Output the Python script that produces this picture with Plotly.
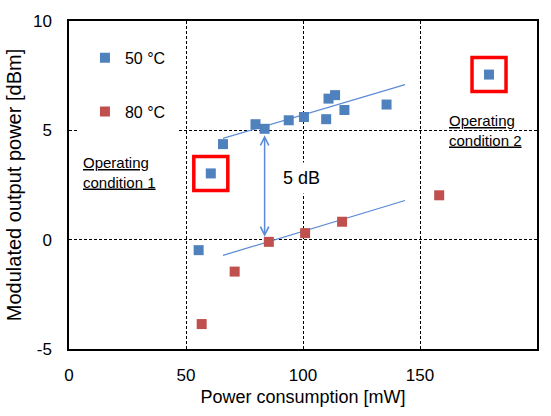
import plotly.graph_objects as go

# Measured modulated output power vs. power consumption
power_50 = [55.4, 60.6, 65.8, 79.7, 83.6, 93.9, 100.4, 109.9, 110.9, 113.7, 117.7, 135.7, 179.5]
mod_50 = [-0.48, 3.03, 4.37, 5.28, 5.07, 5.46, 5.61, 5.51, 6.45, 6.61, 5.93, 6.18, 7.55]

power_80 = [56.7, 70.8, 85.4, 100.9, 116.7, 158.2]
mod_80 = [-3.86, -1.46, -0.10, 0.30, 0.82, 2.03]

# Linear trend lines
trend_x = [65.8, 143.6]
trend_50 = [4.63, 7.09]
trend_80 = [-0.72, 1.79]

# Points highlighted as operating conditions 1 and 2 (indices into the 50 °C series)
highlight_idx = [1, 12]
# Points used for the 5 dB gap arrow
gap_idx_50 = 4
gap_idx_80 = 2

x_ticks = [0, 50, 100, 150, 200]
y_ticks = [-5, 0, 5, 10]
y_tick_text = ["-5", "0", "5", "10"]

BLUE = "#4F81BD"
RED = "#C0504D"
TREND = "#5B8AD6"
FONT = "Liberation Sans, Arial, sans-serif"

fig = go.Figure()

fig.add_trace(go.Scatter(
    x=trend_x, y=trend_50, mode="lines",
    line=dict(color=TREND, width=1.2), showlegend=False, hoverinfo="skip"))
fig.add_trace(go.Scatter(
    x=trend_x, y=trend_80, mode="lines",
    line=dict(color=TREND, width=1.2), showlegend=False, hoverinfo="skip"))

fig.add_trace(go.Scatter(
    x=power_50, y=mod_50, mode="markers", name="50 °C", legendgroup="g50",
    marker=dict(symbol="square", size=10, color=BLUE)))
fig.add_trace(go.Scatter(
    x=power_80, y=mod_80, mode="markers", name="80 °C", legendgroup="g80",
    marker=dict(symbol="square", size=10, color=RED)))

# Red frames around the operating-condition points
fig.add_trace(go.Scatter(
    x=[power_50[i] for i in highlight_idx],
    y=[mod_50[i] for i in highlight_idx],
    mode="markers", showlegend=False, hoverinfo="skip",
    marker=dict(symbol="square-open", size=34, color="#FF0000",
                line=dict(width=3.5, color="#FF0000"))))

# Double-headed arrow showing the 5 dB gap
fig.add_annotation(
    x=power_50[gap_idx_50], y=mod_80[gap_idx_80],
    ax=power_50[gap_idx_50], ay=mod_50[gap_idx_50],
    xref="x", yref="y", axref="x", ayref="y",
    text="", showarrow=True, arrowside="end+start",
    arrowhead=5, startarrowhead=5, arrowsize=1.1, startarrowsize=1.1,
    arrowwidth=1.5, arrowcolor=TREND, standoff=5, startstandoff=5)
fig.add_annotation(
    x=99.2, y=2.8, xref="x", yref="y", text="5 dB", showarrow=False,
    font=dict(family=FONT, size=18, color="black"),
    bgcolor="white", borderpad=5)

fig.add_annotation(
    x=5.1, y=3.08, xref="x", yref="y", xanchor="left", yanchor="middle",
    align="left", showarrow=False,
    text="<u>Operating</u><br><u>condition 1</u>",
    font=dict(family=FONT, size=15, color="black"))
fig.add_annotation(
    x=161.6, y=5.0, xref="x", yref="y", xanchor="left", yanchor="middle",
    align="left", showarrow=False,
    text="<u>Operating</u><br><u>condition 2</u>",
    font=dict(family=FONT, size=15, color="black"))

axis_common = dict(
    showline=True, mirror=True, linecolor="black", linewidth=1.5,
    showgrid=True, gridcolor="black", gridwidth=1.2, griddash="3px,2px",
    zeroline=False, ticks="",
    tickfont=dict(family=FONT, size=17, color="black"),
)

fig.update_xaxes(
    range=[0, 200], tickvals=x_ticks, ticklabelstandoff=10,
    title=dict(text="Power consumption [mW]", standoff=6,
               font=dict(family=FONT, size=18, color="black")),
    **axis_common)
fig.update_yaxes(
    range=[-5, 10], tickvals=y_ticks, ticktext=y_tick_text, ticklabelstandoff=12,
    title=dict(text="Modulated output power [dBm]", standoff=6,
               font=dict(family=FONT, size=20, color="black")),
    **axis_common)

fig.update_layout(
    width=551, height=416,
    margin=dict(l=69, r=13, t=20, b=61),
    paper_bgcolor="white", plot_bgcolor="white",
    font=dict(family=FONT, color="black"),
    legend=dict(
        x=0.017, y=0.964, xanchor="left", yanchor="top",
        bgcolor="white", bordercolor="white", borderwidth=8,
        tracegroupgap=30, traceorder="grouped",
        font=dict(family=FONT, size=16, color="black")),
)

fig.write_html("out.html")
